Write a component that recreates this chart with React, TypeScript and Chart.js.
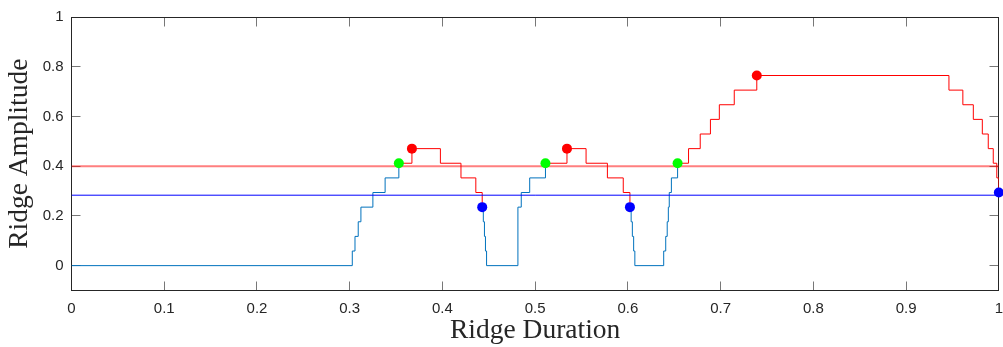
import React, { useEffect, useRef } from 'react';
import { Chart, registerables } from 'chart.js';

Chart.register(...registerables);

// Ridge amplitude step curve (value changes at each x)
const curveX = [
  0, 0.3028, 0.3057, 0.3092, 0.3121, 0.325, 0.3382, 0.353, 0.3671, 0.3978, 0.42, 0.436, 0.4429,
  0.4441, 0.4453, 0.4464, 0.4476, 0.4814, 0.485, 0.4941, 0.5111, 0.5343, 0.5549, 0.5779, 0.595,
  0.6022, 0.6035, 0.6048, 0.6062, 0.6075, 0.6386, 0.6408, 0.6424, 0.6436, 0.6446, 0.6469, 0.6536,
  0.6654, 0.678, 0.689, 0.6986, 0.7147, 0.739, 0.9462, 0.9612, 0.9725, 0.9822, 0.9886, 0.994,
  0.9978, 1.0,
];
const curveY = [
  0, 0.0588, 0.1176, 0.1765, 0.2353, 0.2941, 0.3529, 0.4118, 0.4706, 0.4118, 0.3529, 0.2941, 0.2353,
  0.1765, 0.1176, 0.0588, 0, 0.2353, 0.2941, 0.3529, 0.4118, 0.4706, 0.4118, 0.3529, 0.2941,
  0.2353, 0.1765, 0.1176, 0.0588, 0, 0.0588, 0.1176, 0.1765, 0.2353, 0.2941, 0.3529, 0.4118,
  0.4706, 0.5294, 0.5882, 0.6471, 0.7059, 0.7647, 0.7059, 0.6471, 0.5882, 0.5294, 0.4706, 0.4118,
  0.3529, 0.2941,
];

// Marker points
const riseX = [0.353, 0.5111, 0.6536];
const riseY = [0.4118, 0.4118, 0.4118];
const peakX = [0.3671, 0.5343, 0.739];
const peakY = [0.4706, 0.4706, 0.7647];
const fallX = [0.4429, 0.6022, 1.0];
const fallY = [0.2353, 0.2353, 0.2941];

// Threshold lines
const thresholdX = [0, 1];
const upperThreshold = [0.4, 0.4];
const lowerThreshold = [0.2833, 0.2833];

// Ticks
const xTicks = [0, 0.1, 0.2, 0.3, 0.4, 0.5, 0.6, 0.7, 0.8, 0.9, 1];
const xTickLabels = ['0', '0.1', '0.2', '0.3', '0.4', '0.5', '0.6', '0.7', '0.8', '0.9', '1'];
const yTicks = [0, 0.2, 0.4, 0.6, 0.8, 1];
const yTickLabels = ['0', '0.2', '0.4', '0.6', '0.8', '1'];

const AXIS = '#262626';
const TICK = '#777777';

const ridgeRanges = riseX.map((x, i) => [curveX.indexOf(x), curveX.indexOf(fallX[i])]);
const inside = (idx: number) => ridgeRanges.some(([s, e]) => idx > s && idx < e);
const onRidge = (idx: number) => ridgeRanges.some(([s, e]) => idx >= s && idx <= e);

const boxPlugin = {
  id: 'matlabBox',
  beforeDatasetsDraw(chart: any) {
    const { ctx, chartArea: a, scales } = chart;
    const L = Math.floor(a.left) + 0.5;
    const R = Math.floor(a.right) + 0.5;
    const T = Math.floor(a.top) + 0.5;
    const B = Math.floor(a.bottom) + 0.5;
    const tl = 9;
    ctx.save();
    ctx.lineWidth = 1;
    ctx.strokeStyle = TICK;
    ctx.beginPath();
    xTicks.forEach((v) => {
      const px = Math.floor(scales.x.getPixelForValue(v)) + 0.5;
      ctx.moveTo(px, B);
      ctx.lineTo(px, B - tl);
      ctx.moveTo(px, T);
      ctx.lineTo(px, T + tl);
    });
    yTicks.forEach((v) => {
      const py = Math.floor(scales.y.getPixelForValue(v)) + 0.5;
      ctx.moveTo(L, py);
      ctx.lineTo(L + tl, py);
      ctx.moveTo(R, py);
      ctx.lineTo(R - tl, py);
    });
    ctx.stroke();
    ctx.strokeStyle = AXIS;
    ctx.strokeRect(L, T, R - L, B - T);
    ctx.restore();
  },
};

const tickFont = { family: '"Liberation Sans", Arial, sans-serif', size: 15 };
const titleFont = { family: '"Liberation Serif", "Times New Roman", serif', size: 27.5 };

export default function App() {
  const ref = useRef<HTMLCanvasElement>(null);
  useEffect(() => {
    const canvas = ref.current!;
    const pts = (xs: number[], ys: number[]) => xs.map((x, i) => ({ x, y: ys[i] }));
    const bluePart = curveX.map((x, i) => ({ x, y: inside(i) ? null : curveY[i] }));
    const redPart = curveX.map((x, i) => ({ x, y: onRidge(i) ? curveY[i] : null }));
    const chart = new Chart(canvas, {
      type: 'line',
      data: {
        datasets: [
          {
            label: 'ridge-low',
            data: bluePart,
            stepped: 'before',
            borderColor: '#0072bd',
            borderWidth: 1,
            pointRadius: 0,
            spanGaps: false,
            fill: false,
            order: 4,
          },
          {
            label: 'ridge-high',
            data: redPart,
            stepped: 'before',
            borderColor: '#ff0000',
            borderWidth: 1,
            pointRadius: 0,
            spanGaps: false,
            fill: false,
            order: 3,
          },
          {
            label: 'upper',
            data: pts(thresholdX, upperThreshold),
            borderColor: 'rgba(255,0,0,0.5)',
            borderWidth: 2,
            pointRadius: 0,
            order: 2,
          },
          {
            label: 'lower',
            data: pts(thresholdX, lowerThreshold),
            borderColor: '#0000ff',
            borderWidth: 1,
            pointRadius: 0,
            order: 2,
          },
          {
            label: 'rise',
            data: pts(riseX, riseY),
            showLine: false,
            pointRadius: 5,
            pointBorderWidth: 0,
            pointBackgroundColor: '#00ff00',
            pointBorderColor: '#00ff00',
            order: 1,
          },
          {
            label: 'peak',
            data: pts(peakX, peakY),
            showLine: false,
            pointRadius: 5,
            pointBorderWidth: 0,
            pointBackgroundColor: '#ff0000',
            pointBorderColor: '#ff0000',
            order: 1,
          },
          {
            label: 'fall',
            data: pts(fallX, fallY),
            showLine: false,
            pointRadius: 5,
            pointBorderWidth: 0,
            pointBackgroundColor: '#0000ff',
            pointBorderColor: '#0000ff',
            order: 1,
            clip: false,
          },
        ],
      } as any,
      options: {
        animation: false,
        responsive: false,
        devicePixelRatio: 1,
        events: [],
        layout: { padding: { top: 15, right: 7.5, bottom: 0, left: 0 } },
        plugins: { legend: { display: false }, tooltip: { enabled: false } },
        scales: {
          x: {
            type: 'linear',
            min: 0,
            max: 1,
            grid: { display: false, drawTicks: false },
            border: { display: false },
            afterBuildTicks: (s: any) => {
              s.ticks = xTicks.map((v) => ({ value: v }));
            },
            afterFit: (s: any) => {
              s.height = 56.5;
            },
            ticks: {
              autoSkip: false,
              maxRotation: 0,
              padding: 9,
              color: AXIS,
              font: tickFont,
              callback: (_v: any, i: number) => xTickLabels[i],
            },
            title: {
              display: true,
              text: 'Ridge Duration',
              color: AXIS,
              font: titleFont,
              padding: { top: 0, bottom: 0 },
            },
          },
          y: {
            type: 'linear',
            min: -0.1,
            max: 1,
            grid: { display: false, drawTicks: false },
            border: { display: false },
            afterBuildTicks: (s: any) => {
              s.ticks = yTicks.map((v) => ({ value: v }));
            },
            afterFit: (s: any) => {
              s.width = 71.5;
            },
            ticks: {
              autoSkip: false,
              padding: 8,
              color: AXIS,
              font: tickFont,
              callback: (_v: any, i: number) => yTickLabels[i],
            },
            title: {
              display: true,
              text: 'Ridge Amplitude',
              color: AXIS,
              font: titleFont,
              padding: { top: 3, bottom: 0 },
            },
          },
        },
      } as any,
      plugins: [boxPlugin],
    });
    return () => chart.destroy();
  }, []);

  return (
    <div
      style={{
        position: 'fixed',
        left: 0,
        top: 0,
        width: 1003,
        height: 347,
        overflow: 'hidden',
        background: '#ffffff',
      }}
    >
      <canvas ref={ref} width={1012} height={347} style={{ width: 1012, height: 347, display: 'block' }} />
    </div>
  );
}
